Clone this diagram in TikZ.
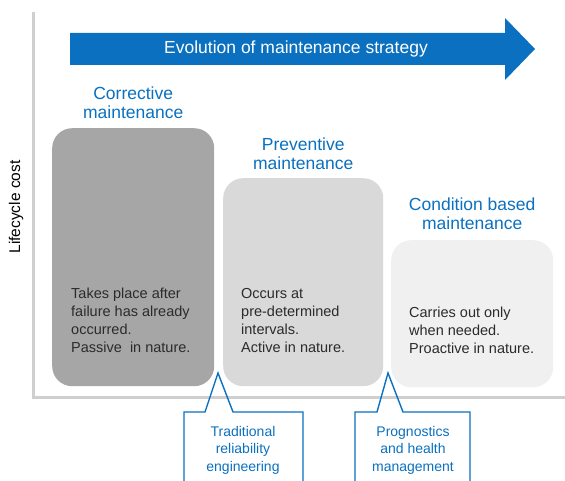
\documentclass[tikz,border=0pt]{standalone}
\usepackage{fontspec}
\setmainfont{Liberation Sans}
\usetikzlibrary{positioning}

\definecolor{stratblue}{HTML}{0A70BF}
\definecolor{axisgray}{HTML}{CFCFCF}
\definecolor{corrgray}{HTML}{A6A6A6}
\definecolor{prevgray}{HTML}{D9D9D9}
\definecolor{condgray}{HTML}{F0F0F0}
\definecolor{txtgray}{HTML}{2B2B2B}

\begin{document}
\begin{tikzpicture}[
        x=1pt, y=-1pt,
        phase/.style={rounded corners=20pt, minimum width=162pt, anchor=north west, inner sep=0pt},
        heading/.style={text=stratblue, align=center, font=\fontsize{17.5}{19}\selectfont},
        desc/.style={text=txtgray, align=left, anchor=north west, inner sep=0pt, font=\fontsize{14.5}{18}\selectfont},
        callout/.style={draw=stratblue, line width=1.4pt},
        note/.style={text=stratblue, align=center, font=\fontsize{14}{17.5}\selectfont},
    ]
    \useasboundingbox (0,0) rectangle (565,481);

    % axes
    \coordinate (top) at (33,12);
    \coordinate (origin) at (33,397);
    \coordinate (right) at (565,397);
    \draw [axisgray, line width=3pt] (top) -- (origin) -- (right);
    \node [rotate=90, font=\fontsize{15.5}{18}\selectfont] (cost) at (16,207) {Lifecycle cost};

    % evolution arrow
    \fill [stratblue] (70,33) -- (505,33) -- (505,18) -- (535,49)
        -- (505,80) -- (505,65) -- (70,65) -- cycle;
    \node [text=white, font=\fontsize{17.5}{20}\selectfont] (evo) at (296,49)
        {Evolution of maintenance strategy};

    % the three strategies
    \node [phase, fill=corrgray, minimum height=258pt] (corr) at (52,128) {};
    \node [phase, fill=prevgray, minimum height=208pt, minimum width=160pt] (prev) at (223,178) {};
    \node [phase, fill=condgray, minimum height=147pt] (cond) at (391,240) {};

    \node [heading, above=6pt of corr.north] (corrtitle) {Corrective\\maintenance};
    \node [heading, above=5pt of prev.north] (prevtitle) {Preventive\\maintenance};
    \node [heading, above=7pt of cond.north] (condtitle) {Condition based\\maintenance};

    \node [desc] (corrtxt) at (71,288) {Takes place after\\failure has already\\occurred.\\Passive \ in nature.};
    \node [desc] (prevtxt) at (241,288) {Occurs at\\pre-determined\\intervals.\\Active in nature.};
    \node [desc] (condtxt) at (409,307) {Carries out only\\when needed.\\Proactive in nature.};

    % callouts below the axis
    \draw [callout] (184,490) -- (184,412) -- (205,412) -- (218,373) -- (233,412)
        -- (303,412) -- (303,490);
    \draw [callout] (355,490) -- (355,412) -- (377,412) -- (388,373) -- (403,412)
        -- (470,412) -- (470,490);
    \node [note] (tre) at (243,450) {Traditional\\reliability\\engineering};
    \node [note] (phm) at (413,450) {Prognostics\\and health\\management};
\end{tikzpicture}
\end{document}
